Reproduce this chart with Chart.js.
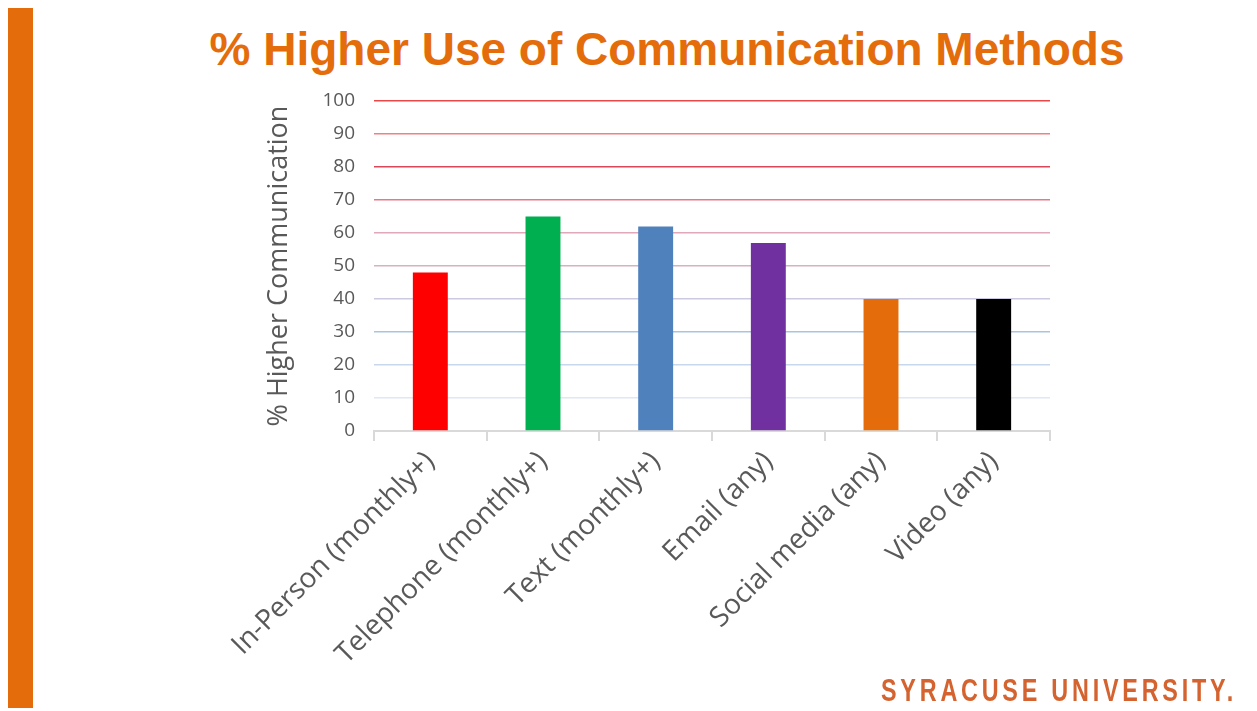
<!DOCTYPE html>
<html>
<head>
<meta charset="utf-8">
<script src="https://cdn.jsdelivr.net/npm/chart.js@4"></script>
<style>
  body { margin: 0; background: #fff; }
  .wrap { position: relative; width: 1257px; height: 711px; overflow: hidden; }
  .sidebar { position: absolute; left: 8px; top: 8px; width: 25px; height: 700px; background: #e46c0a; }
  .title {
    position: absolute; left: 167px; width: 1000px; top: 22px; text-align: center;
    font-family: "Liberation Sans", Arial, sans-serif; font-weight: bold; font-size: 46px;
    color: #e46c0a; white-space: nowrap;
  }
  .logo {
    position: absolute; left: 881px; top: 673px; white-space: nowrap;
    font-family: "Liberation Sans", Arial, sans-serif;
    font-weight: bold; font-size: 31px; letter-spacing: 5px; color: #d4632f;
    transform-origin: left top;
  }
  #myChart { position: absolute; left: 0; top: 0; }
</style>
</head>
<body>
<div class="wrap">
  <div class="sidebar"></div>
  <div class="title">% Higher Use of Communication Methods</div>
  <canvas id="myChart" width="1257" height="711"></canvas>
  <div class="logo" id="logo">SYRACUSE UNIVERSITY.</div>
</div>
<script>
const categories = [
  "In-Person (monthly+)",
  "Telephone (monthly+)",
  "Text (monthly+)",
  "Email (any)",
  "Social media (any)",
  "Video (any)",
];
const values = [48, 65, 62, 57, 40, 40];
const barColors = ["#ff0000", "#00b050", "#4f81bd", "#7030a0", "#e46c0a", "#000000"];

// gridline colour per tick value (fades from red at the top to pale blue)
const gridColors = {
  100: "#e84848", 90: "#f08080", 80: "#d84858", 70: "#e87888",
  60: "#e0a8b8", 50: "#d8b0c0", 40: "#cccae0", 30: "#a8c4e4",
  20: "#c8d8ec", 10: "#dfe8f4", 0: "rgba(0,0,0,0)",
};

// squeeze the logo text to its width in the slide
const logo = document.getElementById("logo");
logo.style.transform = "scaleX(" + 356 / logo.scrollWidth + ")";

var ctx = document.getElementById("myChart").getContext("2d");
var myChart = new Chart(ctx, {
  type: "bar",
  data: {
    labels: categories,
    datasets: [
      {
        data: values,
        backgroundColor: barColors,
        barPercentage: 0.31,
        categoryPercentage: 1,
      },
    ],
  },
  options: {
    responsive: false,
    animation: false,
    layout: { padding: { left: 263, right: 207, top: 101, bottom: 36 } },
    plugins: {
      legend: { display: false },
      tooltip: { enabled: false },
    },
    scales: {
      x: {
        grid: {
          offset: true,
          drawOnChartArea: false,
          color: "#d9d9d9",
          lineWidth: 2,
          tickLength: 10,
        },
        border: { color: "#d9d9d9", width: 2 },
        ticks: {
          color: "#595959",
          font: { family: "Open Sans", size: 28 },
          maxRotation: 45,
          minRotation: 45,
          padding: 4,
        },
      },
      y: {
        min: 0,
        max: 100,
        ticks: {
          stepSize: 10,
          color: "#595959",
          font: { family: "Open Sans", size: 19 },
          padding: 19,
        },
        grid: {
          drawTicks: false,
          color: (c) => gridColors[c.tick.value],
          lineWidth: 1.5,
        },
        border: { display: false },
        title: {
          display: true,
          text: "% Higher Communication",
          color: "#595959",
          font: { family: "Open Sans", size: 27 },
          padding: { top: 0, bottom: 8 },
        },
      },
    },
  },
});
</script>
</body>
</html>
